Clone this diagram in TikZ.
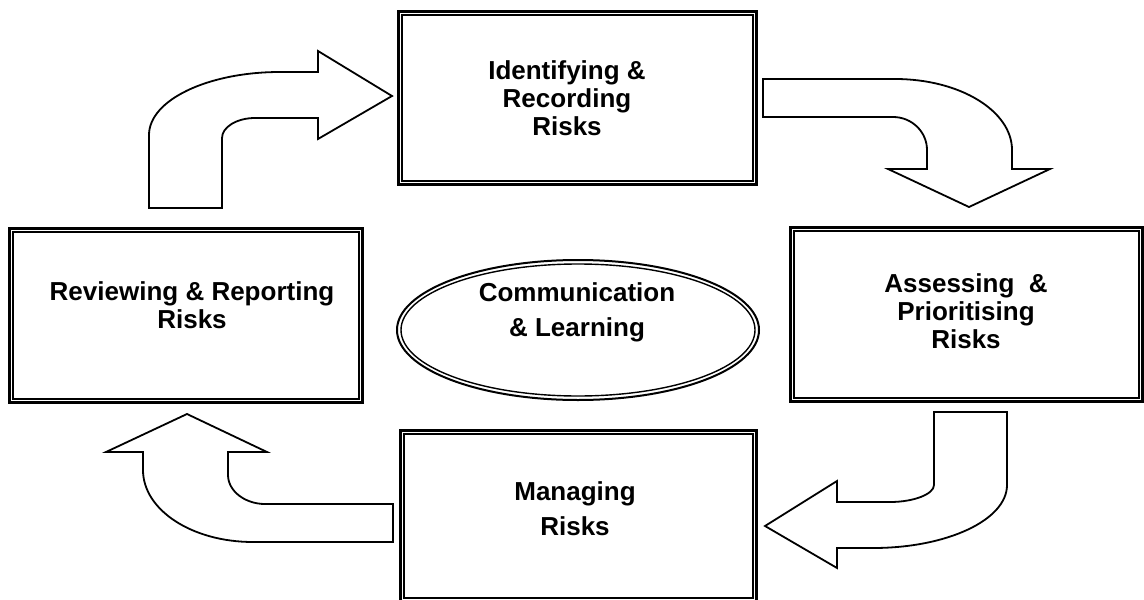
\documentclass[tikz,border=0pt]{standalone}
\usepackage{fontspec}
\setmainfont{Liberation Sans}
\usetikzlibrary{shapes.geometric,calc}
\tikzset{
  riskbox/.style={draw, line width=1.5pt, minimum width=178pt, minimum height=87pt, inner sep=0pt},
  risktext/.style={align=center, font=\fontsize{13}{#1}\selectfont\bfseries},
  risktext/.default=14,
  blockarrow/.style={draw, line width=0.9pt, line join=miter, fill=white},
}
\begin{document}
\begin{tikzpicture}[x=0.5pt, y=-0.5pt]
      \useasboundingbox (0,0) rectangle (1144,599);
      \node[riskbox, minimum width=179pt, minimum height=86.5pt] (ident) at (577,98) {};
      \node[riskbox, minimum width=176pt] (assess) at (966,314) {};
      \node[riskbox, minimum height=85.5pt] (manage) at (578,515.5) {};
      \node[riskbox, minimum width=176.5pt] (review) at (185.5,315) {};
      \foreach \b in {ident,assess,manage,review}
        \draw[line width=1pt] ($(\b.north west)+(5,5)$) rectangle ($(\b.south east)-(5,5)$);
      \node[ellipse, draw, line width=1pt, minimum width=181pt, minimum height=70pt, inner sep=0pt] (comm) at (578,330) {};
      \draw[line width=0.7pt] (comm.center) ellipse [x radius=88.5pt, y radius=33pt];
      \node[risktext] (identtext) at ([shift={(-10,0)}]ident) {Identifying \&\\Recording\\Risks};
      \node[risktext] (assesstext) at ([shift={(0,-2.5)}]assess) {Assessing~ \&\\Prioritising\\Risks};
      \node[risktext=17.5] (managetext) at ([shift={(-3,-6.5)}]manage) {Managing\\Risks};
      \node[risktext] (reviewtext) at ([shift={(6.5,-10)}]review) {Reviewing \& Reporting\\Risks};
      \node[risktext=17.5] (commtext) at ([shift={(-1,-18)}]comm) {Communication\\\& Learning};
      \begin{scope}[blockarrow]
        \draw (149,208) -- (149,135) .. controls (149,100) and (208,72) .. (280,72)
          -- (318,72) -- (318,51) -- (392,96) -- (318,139) -- (318,118) -- (255,118)
          .. controls (237,118) and (222,127) .. (222,138) -- (222,208) -- cycle;
        \draw (763,79) -- (895,79) .. controls (960,79) and (1012,111) .. (1012,150)
          -- (1012,169) -- (1050,169) -- (969,207) -- (888,169) -- (927,169) -- (927,150)
          .. controls (927,132) and (912,117) .. (893,117) -- (763,117) -- cycle;
        \draw (934,412) -- (1007,412) -- (1007,485) .. controls (1007,520) and (947,548) .. (873,548)
          -- (837,548) -- (837,568) -- (765,526) -- (837,481) -- (837,502) -- (890,502)
          .. controls (914,502) and (934,494) .. (934,485) -- cycle;
        \draw (393,504) -- (265,504) .. controls (245,504) and (228,491) .. (228,475)
          -- (228,452) -- (267,452) -- (187,414) -- (106,452) -- (143,452) -- (143,470)
          .. controls (143,510) and (192,542) .. (253,542) -- (393,542) -- cycle;
      \end{scope}
\end{tikzpicture}
\end{document}
